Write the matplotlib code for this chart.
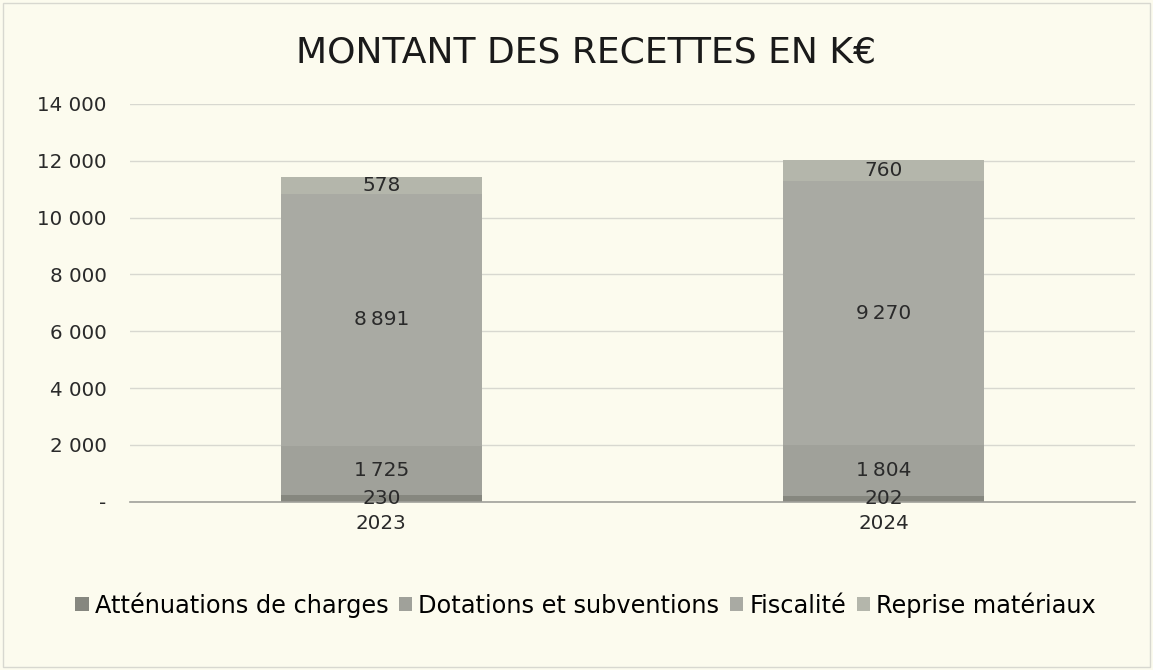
import matplotlib
matplotlib.use("Agg")
import matplotlib.pyplot as plt
from matplotlib.ticker import FuncFormatter

years = ["2023", "2024"]
series_names = ["Atténuations de charges", "Dotations et subventions", "Fiscalité", "Reprise matériaux"]
attenuations = [230, 202]
dotations = [1725, 1804]
fiscalite = [8891, 9270]
reprise = [578, 760]
yticks = [0, 2000, 4000, 6000, 8000, 10000, 12000, 14000]

values = [attenuations, dotations, fiscalite, reprise]
colors = ["#86877f", "#a0a19a", "#a9aaa3", "#b4b6ab"]

plt.rcParams['font.family'] = ['DejaVu Sans']
fig = plt.figure(figsize=(11.53, 6.70), dpi=100, facecolor="#fcfbee")
ax = fig.add_axes([0.113, 0.251, 0.871, 0.594])
ax.set_facecolor("#fcfbee")

x = [0.0, 1.0]
bottoms = [0, 0]
for name, vals, c in zip(series_names, values, colors):
    bars = ax.bar(x, vals, bottom=bottoms, width=0.4, color=c, label=name, edgecolor="none")
    labels = [f"{v:,}".replace(",", "\u202f") for v in vals]
    ax.bar_label(bars, labels=labels, label_type="center", fontsize=14.5, color="#2a2a2a")
    bottoms = [b + v for b, v in zip(bottoms, vals)]

ax.set_xlim(-0.5, 1.5)
ax.set_ylim(0, 14000)
ax.set_yticks(yticks)
ax.yaxis.set_major_formatter(FuncFormatter(lambda v, p: "-" if v == 0 else f"{int(v):,}".replace(",", " ")))
ax.set_xticks(x)
ax.set_xticklabels(years)
ax.tick_params(axis="both", length=0, labelsize=14.3, colors="#2a2a2a")
ax.tick_params(axis="y", pad=17)
ax.tick_params(axis="x", pad=9)
ax.grid(axis="y", color="#d8d8d0", linewidth=1)
ax.set_axisbelow(True)
for s in ["top", "right", "left"]:
    ax.spines[s].set_visible(False)
ax.spines["bottom"].set_color("#a0a09a")
ax.spines["bottom"].set_linewidth(1.2)

fig.text(0.508, 0.922, "MONTANT DES RECETTES EN K€", ha="center", va="center",
         fontsize=26, color="#1a1a1a")

fig.legend(loc="center", bbox_to_anchor=(0.508, 0.097), ncol=4, frameon=False,
           fontsize=17.3, handlelength=0.55, handleheight=0.55, handletextpad=0.25,
           columnspacing=0.45)

fig.patches.append(plt.Rectangle((0.003, 0.005), 0.994, 0.99, transform=fig.transFigure,
                                 fill=False, edgecolor="#d8d8d0", linewidth=1))
fig.savefig("out.png", dpi=100, facecolor=fig.get_facecolor())
